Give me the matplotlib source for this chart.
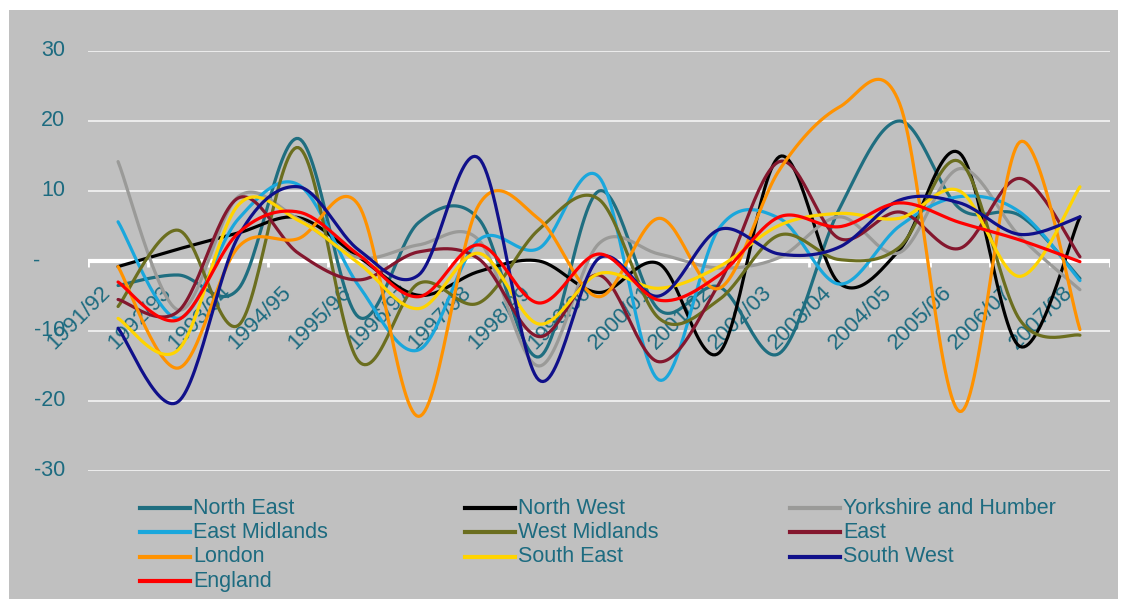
import numpy as np
import matplotlib
matplotlib.use("Agg")
import matplotlib.pyplot as plt
from matplotlib.lines import Line2D
from matplotlib.patches import Rectangle
from matplotlib.transforms import blended_transform_factory

plt.rcParams['font.family'] = ['Liberation Sans', 'DejaVu Sans']

years = ['1991/92', '1992/93', '1993/94', '1994/95', '1995/96', '1996/97',
         '1997/98', '1998/99', '1999/00', '2000/01', '2001/02', '2002/03',
         '2003/04', '2004/05', '2005/06', '2006/07', '2007/08']

north_east = [-3.5, -2.0, -4.0, 17.5, -8.0, 5.5, 6.0, -13.7, 10.0, -7.0, -3.7, -13.2, 7.5, 20.0, 7.5, 6.5, -2.5]
north_west = [-0.8, 1.7, 4.0, 6.2, 0.6, -4.9, -1.5, 0.0, -4.5, -0.4, -13.1, 14.9, -3.2, 1.6, 15.4, -12.2, 6.3]
yorkshire = [14.2, -7.0, 9.2, 6.0, 0.5, 2.3, 3.0, -15.0, 2.5, 1.0, -1.0, 0.5, 6.3, 1.2, 13.2, 3.5, -4.1]
east_midlands = [5.6, -8.2, 6.0, 10.9, -3.5, -12.7, 3.0, 1.8, 12.0, -17.0, 4.7, 6.1, -3.3, 5.0, 9.2, 7.0, -2.8]
west_midlands = [-6.5, 4.4, -9.2, 16.2, -14.3, -3.2, -6.0, 4.5, 8.8, -8.2, -5.5, 3.7, 0.2, 2.0, 14.2, -8.4, -10.6]
east = [-5.5, -7.2, 9.0, 1.1, -2.7, 1.3, 0.3, -10.8, -2.0, -14.4, -3.2, 14.2, 3.2, 7.0, 1.8, 11.8, 0.6]
london = [-0.8, -15.3, 2.0, 3.2, 8.0, -22.2, 8.0, 6.0, -5.1, 6.1, -3.9, 13.0, 22.0, 22.5, -21.5, 17.0, -9.8]
south_east = [-8.2, -12.7, 8.0, 5.8, -0.3, -6.8, 1.1, -9.0, -1.8, -3.9, -0.8, 5.1, 6.8, 6.1, 10.0, -2.2, 10.6]
south_west = [-9.6, -20.1, 3.5, 10.6, 1.6, -2.0, 14.7, -17.0, 0.4, -5.0, 4.5, 1.0, 2.0, 8.7, 8.3, 3.8, 6.3]
england = [-3.0, -8.4, 4.0, 7.0, 0.9, -5.1, 2.3, -6.0, 1.0, -5.6, -2.0, 6.3, 4.9, 8.3, 5.5, 3.0, -0.1]

series = [
    ('North East', north_east, '#1f6e80'),
    ('North West', north_west, '#000000'),
    ('Yorkshire and Humber', yorkshire, '#9a9a98'),
    ('East Midlands', east_midlands, '#1aa7dc'),
    ('West Midlands', west_midlands, '#6b6e1f'),
    ('East', east, '#84172e'),
    ('London', london, '#ff9200'),
    ('South East', south_east, '#ffd400'),
    ('South West', south_west, '#10108a'),
    ('England', england, '#ff0000'),
]

TEAL = '#1d6b80'
W, H = 1125, 599


def smooth(y, n=30):
    # bezier through every point, control arms 1/6 of the neighbour chord
    x = np.arange(len(y), dtype=float)
    p = np.column_stack([x, np.asarray(y, float)])
    p = np.vstack([p[0], p, p[-1]])
    out = []
    t = np.linspace(0, 1, n)[:, None]
    for i in range(1, len(p) - 2):
        p0, p3 = p[i], p[i + 1]
        c1 = p0 + (p[i + 1] - p[i - 1]) / 6
        c2 = p3 - (p[i + 2] - p[i]) / 6
        seg = ((1 - t) ** 3) * p0 + 3 * ((1 - t) ** 2) * t * c1 + 3 * (1 - t) * t ** 2 * c2 + t ** 3 * p3
        out.append(seg if i == 1 else seg[1:])
    out = np.vstack(out)
    return out[:, 0], out[:, 1]


fig = plt.figure(figsize=(W / 100, H / 100), dpi=100, facecolor='white')
fig.add_artist(Rectangle((9 / W, 0), 1109 / W, 1 - 10 / H, transform=fig.transFigure,
                         facecolor='#c0c0c0', edgecolor='none', zorder=0))

ax = fig.add_axes([88 / W, 1 - 471 / H, 1022 / W, 420 / H])
ax.set_facecolor('none')
ax.set_xlim(-0.5, 16.5)
ax.set_ylim(-30, 30)
for s in ax.spines.values():
    s.set_visible(False)
ax.set_xticks([])
ax.set_yticks([])

for v in [-30, -20, -10, 10, 20, 30]:
    ax.axhline(v, color='#f0f0f0', lw=1.3, zorder=1)
ax.axhline(0, color='white', lw=3, zorder=1)
ax.vlines(np.arange(-0.5, 17), -0.8, 0, color='white', lw=2, zorder=1)

for name, vals, col in series:
    xs, ys = smooth(vals)
    ax.plot(xs, ys, color=col, lw=2.3, solid_capstyle='round', zorder=3)

# y labels, accounting style: dash for zero sits at the left
ytr = blended_transform_factory(fig.transFigure, ax.transData)
for v in [30, 20, 10, -10, -20, -30]:
    ax.text(65 / W, v, f'{v}', transform=ytr, ha='right', va='center', color=TEAL, fontsize=15.5)
ax.text(33 / W, 0, '-', transform=ytr, ha='left', va='center', color=TEAL, fontsize=15.5)

for i, lab in enumerate(years):
    ax.text(i - 0.3, -3.0, lab, rotation=45, ha='right', va='top', rotation_mode='anchor',
            color=TEAL, fontsize=16, zorder=2)

# legend laid out row by row in three columns
col_x = [140, 465, 790]
row_y = [508, 532, 557, 581]
for k, (name, vals, col) in enumerate(series):
    r, c = divmod(k, 3)
    x0, y0 = col_x[c], row_y[r]
    fig.add_artist(Line2D([x0 / W, (x0 + 50) / W], [1 - y0 / H, 1 - y0 / H],
                          transform=fig.transFigure, color=col, lw=3))
    fig.text((x0 + 53) / W, 1 - y0 / H, name, ha='left', va='center', color=TEAL, fontsize=15.5)

fig.savefig('out.png', dpi=100, facecolor='white')
